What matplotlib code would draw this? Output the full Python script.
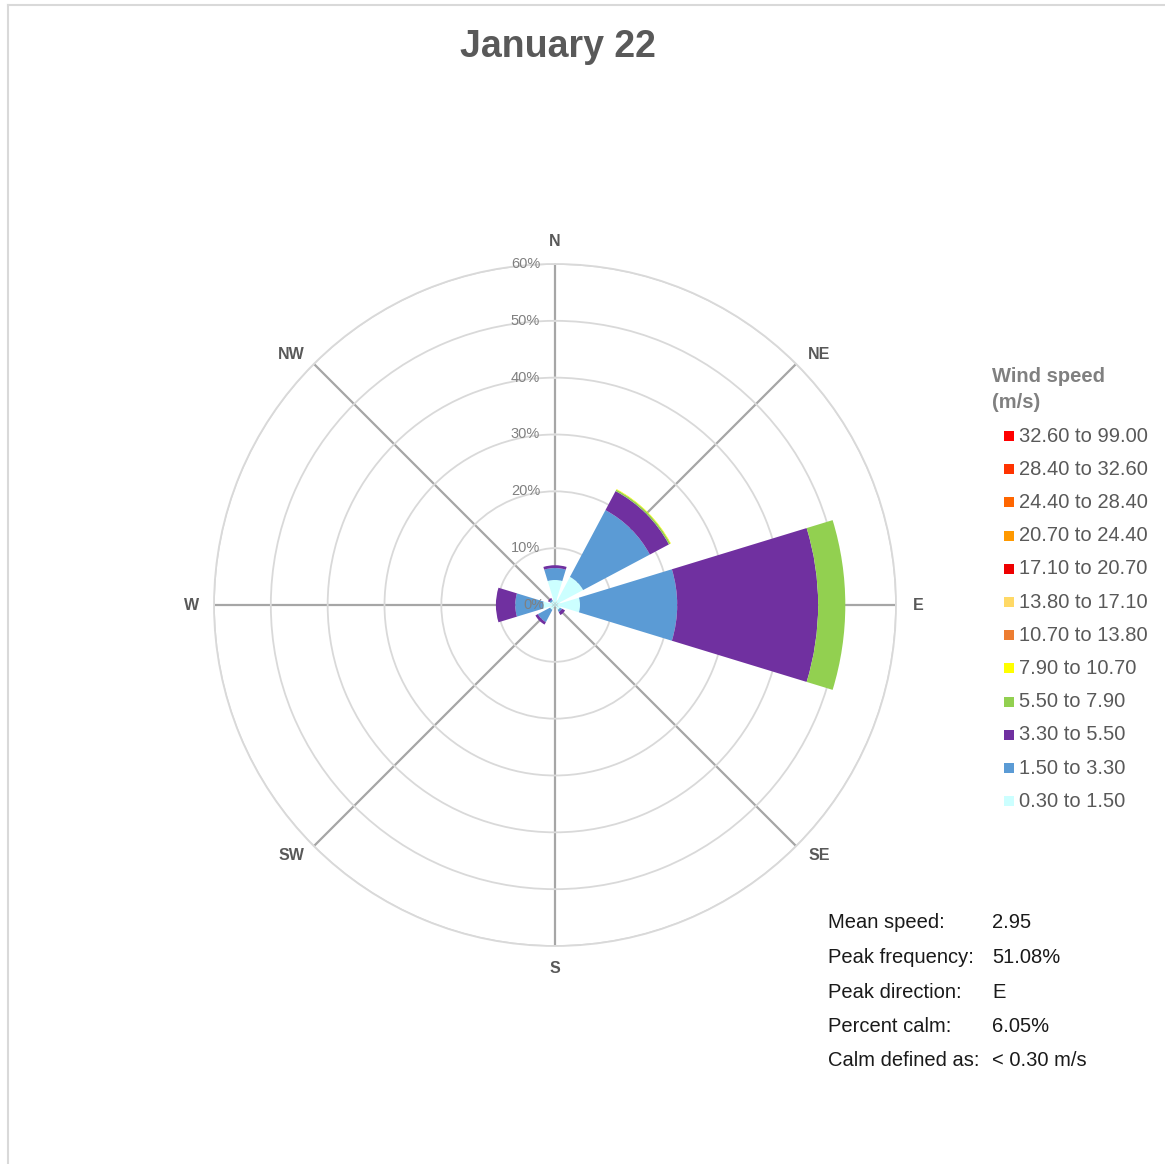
import numpy as np
import matplotlib
matplotlib.use("Agg")
import matplotlib.pyplot as plt
from matplotlib.lines import Line2D
from matplotlib.patches import Rectangle

plt.rcParams['font.family'] = ['Liberation Sans', 'DejaVu Sans']

# ---------------- data ----------------
title = "January 22"
directions = ["N", "NE", "E", "SE", "S", "SW", "W", "NW"]
dir_angles_deg = [0, 45, 90, 135, 180, 225, 270, 315]

speed_bins = ["0.30 to 1.50", "1.50 to 3.30", "3.30 to 5.50", "5.50 to 7.90",
              "7.90 to 10.70", "10.70 to 13.80", "13.80 to 17.10", "17.10 to 20.70",
              "20.70 to 24.40", "24.40 to 28.40", "28.40 to 32.60", "32.60 to 99.00"]
bin_colors = ["#CCFFFF", "#5B9BD5", "#7030A0", "#92D050",
              "#FFFF00", "#ED7D31", "#FFD966", "#EE0000",
              "#FF9900", "#FF6600", "#FF3300", "#FF0000"]

# frequency (%) per direction for each speed bin  (N, NE, E, SE, S, SW, W, NW)
f_0_3_1_5  = [4.4, 5.6, 4.4, 1.0, 0.3, 1.0, 2.1, 0.8]
f_1_5_3_3  = [2.1, 13.3, 17.1, 0.4, 0.0, 2.4, 4.9, 0.3]
f_3_3_5_5  = [0.5, 3.8, 24.8, 0.6, 0.0, 0.5, 3.4, 0.3]
f_5_5_7_9  = [0.0, 0.3, 4.78, 0.0, 0.0, 0.0, 0.0, 0.0]
f_7_9_10_7 = [0.0, 0.1, 0.0, 0.0, 0.0, 0.0, 0.0, 0.0]
f_zero     = [0.0] * 8
series = [f_0_3_1_5, f_1_5_3_3, f_3_3_5_5, f_5_5_7_9, f_7_9_10_7,
          f_zero, f_zero, f_zero, f_zero, f_zero, f_zero, f_zero]

r_ticks = [0, 10, 20, 30, 40, 50, 60]

stat_labels = ["Mean speed:", "Peak frequency:", "Peak direction:", "Percent calm:", "Calm defined as:"]
stat_values = ["2.95", "51.08%", "E", "6.05%", "< 0.30 m/s"]

# ---------------- figure ----------------
W, H = 1165, 1164
fig = plt.figure(figsize=(W / 100, H / 100), dpi=100)
fig.patch.set_facecolor("white")

# frame lines (left + top)
fig.add_artist(Line2D([8 / W, 8 / W], [0, 1 - 5 / H], color="#d9d9d9", lw=1.5))
fig.add_artist(Line2D([8 / W, 1], [1 - 5 / H, 1 - 5 / H], color="#d9d9d9", lw=1.5))

cx, cy, R = 555, 605, 341
ax = fig.add_axes([(cx - R) / W, (H - cy - R) / H, 2 * R / W, 2 * R / H], projection="polar")
ax.set_theta_zero_location("N")
ax.set_theta_direction(-1)
ax.set_ylim(0, 60)
ax.set_facecolor("none")

theta = np.deg2rad(dir_angles_deg)
width = np.deg2rad(34)
bottom = np.zeros(len(directions))
for vals, col in zip(series, bin_colors):
    v = np.array(vals)
    ax.bar(theta, v, width=width, bottom=bottom, color=col, edgecolor="none", zorder=3)
    bottom += v

# grid
ax.set_yticks(r_ticks[1:])
ax.set_yticklabels([])
ax.set_xticks(theta)
ax.set_xticklabels([])
ax.yaxis.grid(True, color="#d9d9d9", lw=1.3)
ax.xaxis.grid(True, color="#a6a6a6", lw=1.6)
ax.spines["polar"].set_color("#d9d9d9")
ax.spines["polar"].set_linewidth(1.3)
ax.set_axisbelow(True)
ax.tick_params(length=0)

# direction labels (diagonals sit slightly wider than tall, as in the reference)
for d, a in zip(directions, theta):
    adj = np.deg2rad(1.5) if d in ("NE", "SW") else (-np.deg2rad(1.5) if d in ("NW", "SE") else 0)
    ax.text(a + adj, 64.0, d, ha="center", va="center", fontsize=11.5, fontweight="bold",
            color="#595959", family=["Liberation Sans", "DejaVu Sans"])

# radial labels
for r in r_ticks:
    ax.annotate(f"{r}%", xy=(0, r), xytext=(-15 if r else -11, 0), textcoords="offset pixels",
                ha="right", va="center", fontsize=10.5, color="#808080", zorder=5)

# title
fig.text(558 / W, 1 - 47 / H, title, ha="center", va="center", fontsize=27,
         fontweight="bold", color="#595959")

# legend
fig.text(992 / W, 1 - 377 / H, "Wind speed", ha="left", va="center", fontsize=14.5,
         fontweight="bold", color="#808080")
fig.text(992 / W, 1 - 402 / H, "(m/s)", ha="left", va="center", fontsize=14.5,
         fontweight="bold", color="#808080")
y0, dy = 436, 33.2
for i, (lab, col) in enumerate(zip(speed_bins[::-1], bin_colors[::-1])):
    y = y0 + i * dy
    fig.add_artist(Rectangle(((1004) / W, 1 - (y + 5) / H), 10 / W, 10 / H,
                             facecolor=col, edgecolor="none", transform=fig.transFigure))
    fig.text(1019 / W, 1 - y / H, lab, ha="left", va="center", fontsize=14.5, color="#595959")

# stats
for i, (lab, val) in enumerate(zip(stat_labels, stat_values)):
    y = 923 + i * 34.5
    fig.text(828 / W, 1 - y / H, lab, ha="left", va="center", fontsize=14.5, color="#1a1a1a")
    fig.text(992 / W, 1 - y / H, val, ha="left", va="center", fontsize=14.5, color="#1a1a1a")

fig.savefig("out.png", dpi=100)
